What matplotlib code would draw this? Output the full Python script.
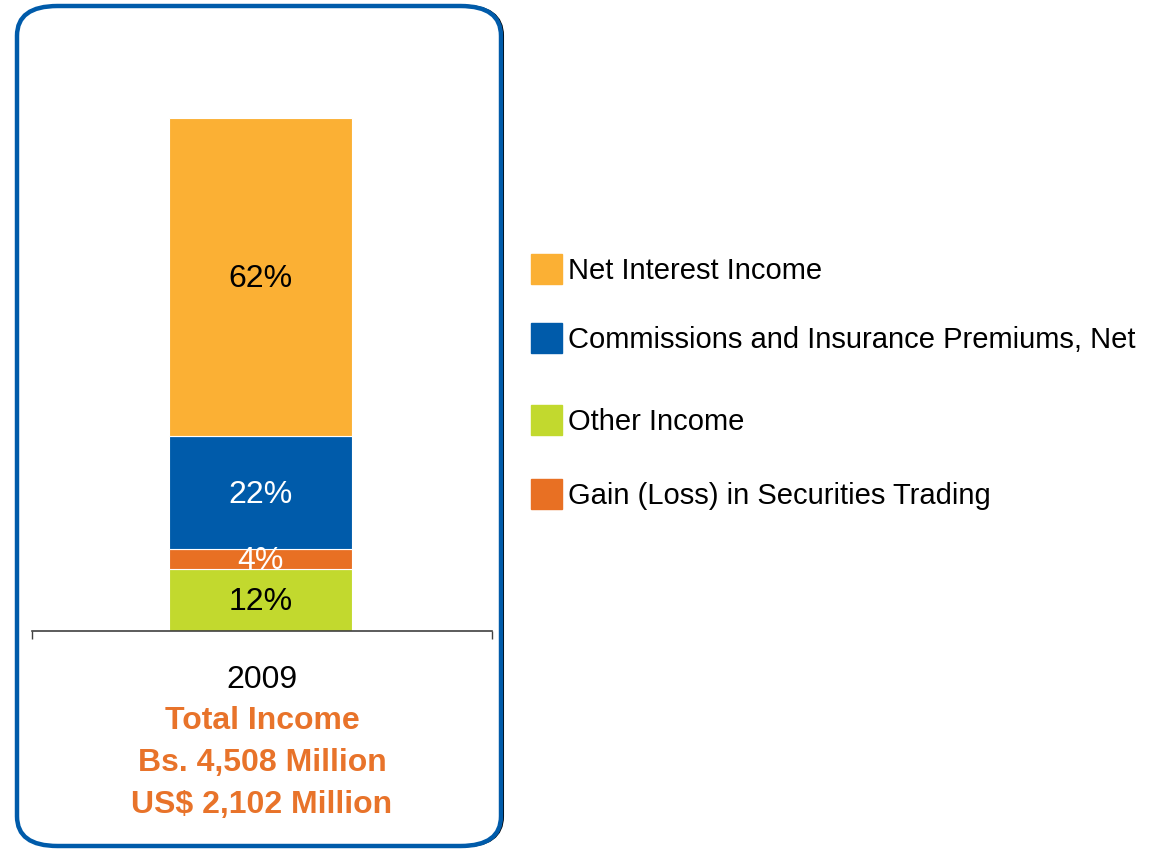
import matplotlib
matplotlib.use('Agg')
import matplotlib.pyplot as plt
from matplotlib.patches import FancyBboxPatch, Rectangle

plt.rcParams['font.family'] = ['Liberation Sans', 'DejaVu Sans']

# data
year = '2009'
segments = ['Other Income', 'Gain (Loss) in Securities Trading',
            'Commissions and Insurance Premiums, Net', 'Net Interest Income']
shares = [12, 4, 22, 62]
colors = ['#C2D92E', '#E87023', '#005BAA', '#FBB034']
label_colors = ['black', 'white', 'white', 'black']
legend_order = ['Net Interest Income', 'Commissions and Insurance Premiums, Net',
                'Other Income', 'Gain (Loss) in Securities Trading']
totals = ['Total Income', 'Bs. 4,508 Million', 'US$ 2,102 Million']

W, H = 1157, 849
fig = plt.figure(figsize=(W / 100, H / 100), dpi=100)

# rounded blue frame with a thin dark shadow on the right
shadow = FancyBboxPatch((18.5 / W, 3 / H), 484 / W, 840 / H,
                        boxstyle='round,pad=0,rounding_size=0.035',
                        transform=fig.transFigure, fill=False,
                        edgecolor='black', linewidth=2.2, zorder=0)
frame = FancyBboxPatch((17 / W, 3 / H), 484 / W, 840 / H,
                       boxstyle='round,pad=0,rounding_size=0.035',
                       transform=fig.transFigure, facecolor='white',
                       edgecolor='#005BAA', linewidth=3.2, zorder=1)
fig.patches.extend([shadow, frame])

ax = fig.add_axes([32 / W, (H - 631) / H, 460 / W, 513 / H])
ax.set_zorder(2)
ax.patch.set_alpha(0)
ax.set_xlim(-1, 1)
ax.set_ylim(0, 100)

bottom = 0
for name, val, col, lc in zip(segments, shares, colors, label_colors):
    ax.bar(-0.007, val, width=0.796, bottom=bottom, color=col,
           edgecolor='white', linewidth=0.8)
    ax.text(-0.007, bottom + val / 2 - 0.4, '{}%'.format(val), ha='center',
            va='center', fontsize=23, color=lc)
    bottom += val

for s in ['top', 'left', 'right']:
    ax.spines[s].set_visible(False)
ax.spines['bottom'].set_color('#404040')
ax.spines['bottom'].set_linewidth(1.2)
ax.set_yticks([])
ax.set_xticks([-1, 1])
ax.set_xticklabels(['', ''])
ax.tick_params(axis='x', length=6, color='#404040', width=1)

fig.text(262 / W, 1 - 680 / H, year, ha='center', va='center', fontsize=23)
for i, t in enumerate(totals):
    fig.text(262 / W, 1 - (721 + 42 * i) / H, t, ha='center', va='center',
             fontsize=23, fontweight='bold', color='#E8732A')

# legend
legend_y = [269, 338, 420, 494]
for name, y in zip(legend_order, legend_y):
    col = colors[segments.index(name)]
    fig.patches.append(Rectangle((531 / W, 1 - (y + 15) / H), 31 / W, 30 / H,
                                 transform=fig.transFigure, color=col))
    fig.text(568 / W, 1 - (y + 2) / H, name, ha='left', va='center', fontsize=21)

fig.savefig('out.png', dpi=100)
